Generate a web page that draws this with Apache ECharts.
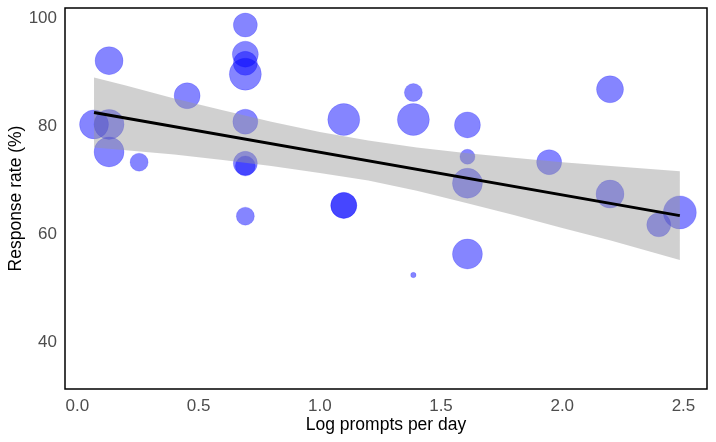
<!DOCTYPE html>
<html>
<head>
<meta charset="utf-8">
<style>
  html, body { margin: 0; padding: 0; background: #fff; }
  #chart { width: 716px; height: 442px; }
</style>
<script src="https://cdn.jsdelivr.net/npm/echarts@6/dist/echarts.min.js"></script>
</head>
<body>
<div id="chart"></div>
<script>
// points: log prompts per day vs response rate, bubble size per study
const logPrompts = [0.069, 0.131, 0.131, 0.131, 0.255, 0.453, 0.693, 0.693, 0.693, 0.693, 0.693, 0.693, 0.693, 0.693,
  1.099, 1.099, 1.099, 1.386, 1.386, 1.386, 1.609, 1.609, 1.609, 1.609, 1.946, 2.197, 2.197, 2.398, 2.485];
const responseRate = [80.3, 80.3, 92.1, 75.2, 73.3, 85.6, 98.7, 93.3, 91.6, 89.6, 80.8, 73.1, 72.6, 63.3,
  81.2, 65.3, 65.3, 86.2, 81.2, 52.4, 80.2, 74.3, 69.4, 56.3, 73.3, 86.8, 67.4, 61.7, 64.0];
const bubbleSize = [14.5, 15, 14, 15, 9, 13, 12, 13, 12, 16, 12.5, 12, 10, 9,
  16, 13, 13, 9, 16, 2.7, 13, 7.5, 15, 15, 12.5, 13.5, 14, 12, 16.5];

// fitted line and confidence band
const fitX = [0.069, 2.485];
const fitY = [82.5, 63.4];
const bandX = [0.069, 0.2, 0.4, 0.6, 0.8, 1.0, 1.2, 1.4, 1.6, 1.8, 2.0, 2.2, 2.485];
const bandUpper = [89.0, 87.5, 85.1, 82.9, 80.8, 78.9, 77.3, 76.0, 75.0, 74.1, 73.3, 72.6, 71.6];
const bandLower = [76.0, 75.5, 74.7, 73.7, 72.6, 71.3, 69.9, 68.0, 65.8, 63.5, 61.1, 58.8, 55.2];

const chart = echarts.init(document.getElementById("chart"));

const font = "Liberation Sans, Arial, sans-serif";
const labelStyle = { color: "#4d4d4d", fontSize: 17, fontFamily: font };
const nameStyle = { color: "#000", fontSize: 17.5, fontFamily: font };

chart.setOption({
  animation: false,
  grid: {
    left: 65,
    right: 9,
    top: 8,
    bottom: 53,
    outerBoundsMode: "none",
    containLabel: false,
    show: true,
    borderColor: "#000",
    borderWidth: 1.5,
    backgroundColor: "transparent"
  },
  xAxis: {
    type: "value",
    min: -0.0507,
    max: 2.597,
    splitNumber: 5,
    name: "Log prompts per day",
    nameLocation: "middle",
    nameGap: 27,
    nameMoveOverlap: false,
    nameTextStyle: Object.assign({ verticalAlign: "top" }, nameStyle),
    axisLine: { show: false },
    axisTick: { show: false },
    splitLine: { show: false },
    axisLabel: Object.assign({
      margin: 9,
      showMinLabel: false,
      showMaxLabel: false,
      formatter: v => v.toFixed(1)
    }, labelStyle)
  },
  yAxis: {
    type: "value",
    min: 31.3,
    max: 101.85,
    splitNumber: 4,
    name: "Response rate (%)",
    nameLocation: "middle",
    nameGap: 40,
    nameMoveOverlap: false,
    nameTextStyle: nameStyle,
    axisLine: { show: false },
    axisTick: { show: false },
    splitLine: { show: false },
    axisLabel: Object.assign({
      margin: 8,
      showMinLabel: false,
      showMaxLabel: false
    }, labelStyle)
  },
  series: [
    {
      type: "scatter",
      z: 2,
      data: logPrompts.map((x, i) => [x, responseRate[i], bubbleSize[i]]),
      symbolSize: d => d[2] * 2,
      itemStyle: {
        color: "rgba(0,0,255,0.6)",
        borderColor: "rgba(0,0,255,0.35)",
        borderWidth: 0.6
      }
    },
    {
      // confidence band drawn as one polygon over the points
      type: "custom",
      z: 3,
      silent: true,
      data: bandX.map((x, i) => [x, bandUpper[i], bandLower[i]]),
      encode: { x: 0, y: [1, 2] },
      renderItem: (params, api) => {
        if (params.dataIndex !== 0) return null;
        const top = bandX.map((x, i) => api.coord([x, bandUpper[i]]));
        const bottom = bandX.map((x, i) => api.coord([x, bandLower[i]])).reverse();
        return {
          type: "polygon",
          shape: { points: top.concat(bottom) },
          style: { fill: "rgba(153,153,153,0.46)", stroke: null }
        };
      }
    },
    {
      type: "line",
      z: 4,
      symbol: "none",
      lineStyle: { color: "#000", width: 3 },
      data: fitX.map((x, i) => [x, fitY[i]])
    }
  ]
});
</script>
</body>
</html>
